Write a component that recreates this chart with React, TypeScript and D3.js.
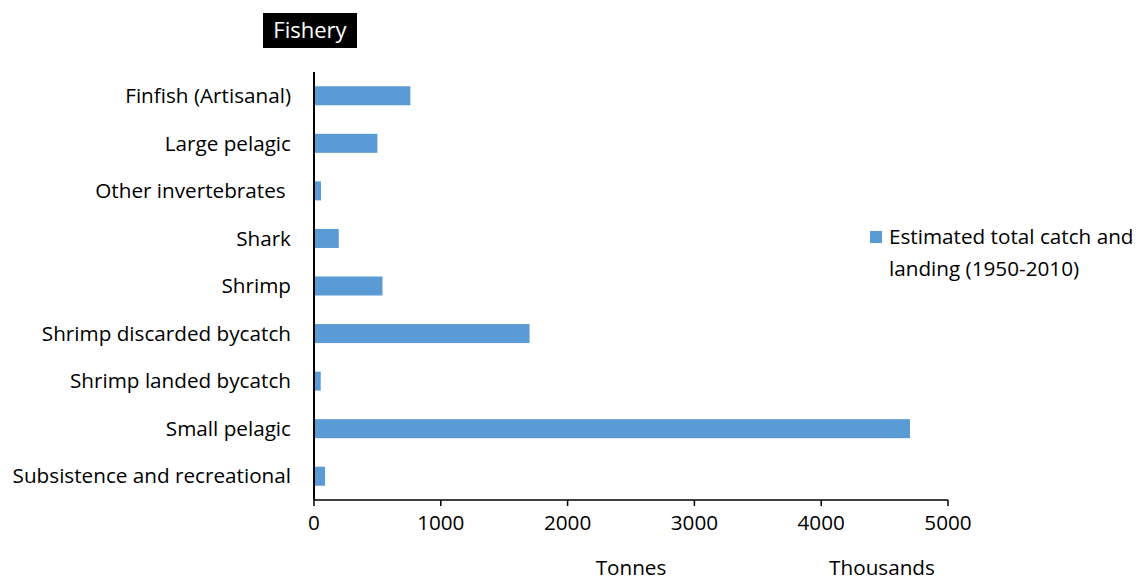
import React from "react";
import * as d3 from "d3";

const categories = [
  "Finfish (Artisanal)",
  "Large pelagic",
  "Other invertebrates ",
  "Shark",
  "Shrimp",
  "Shrimp discarded bycatch",
  "Shrimp landed bycatch",
  "Small pelagic",
  "Subsistence and recreational",
];
// Estimated total catch and landing 1950-2010, thousand tonnes
const catchValues = [760, 500, 55, 195, 540, 1700, 53, 4700, 87];
const xTicks = [0, 1000, 2000, 3000, 4000, 5000];
const seriesName = ["Estimated total catch and", "landing (1950-2010)"];

const W = 1139;
const H = 581;
const FONT = "'Open Sans', sans-serif";
const BAR = "#5B9BD5";
const FS = 20.7;

export default function App() {
  const x = d3.scaleLinear().domain([0, 5000]).range([314, 948]);
  const y = d3.scaleBand<string>().domain(categories).range([72, 500]).paddingInner(0.6).paddingOuter(0.3);
  const axisY = 500;

  return (
    <svg width={W} height={H} style={{ position: "absolute", left: 0, top: 0, background: "#fff" }} fontFamily={FONT}>
      {/* title box */}
      <rect x={263} y={13} width={94} height={35} fill="#000" />
      <text x={310} y={38} textAnchor="middle" fill="#fff" fontSize={22}>Fishery</text>

      {/* bars */}
      {categories.map((c, i) => (
        <rect key={c} x={x(0)} y={y(c)!} width={x(catchValues[i]) - x(0)} height={y.bandwidth()} fill={BAR} />
      ))}

      {/* category labels */}
      {categories.map((c) => (
        <text key={c} x={291} y={y(c)! + y.bandwidth() / 2} dy="0.35em" textAnchor="end" fontSize={FS} fill="#000" style={{ whiteSpace: "pre" }}>
          {c}
        </text>
      ))}

      {/* axes */}
      <line x1={x(0)} x2={x(0)} y1={72} y2={axisY} stroke="#000" strokeWidth={2} />
      <line x1={x(0)} x2={x(5000)} y1={axisY} y2={axisY} stroke="#000" strokeWidth={1.5} />
      {xTicks.map((t) => (
        <g key={t}>
          <line x1={x(t)} x2={x(t)} y1={axisY} y2={axisY + 6} stroke="#000" strokeWidth={1.5} />
          <text x={x(t)} y={530} textAnchor="middle" fontSize={FS} fill="#000">{t}</text>
        </g>
      ))}
      <text x={631} y={575} textAnchor="middle" fontSize={FS} fill="#000">Tonnes</text>
      <text x={882} y={575} textAnchor="middle" fontSize={FS} fill="#000">Thousands</text>

      {/* legend */}
      <rect x={870} y={231} width={12} height={12} fill={BAR} />
      <text x={889} y={244} fontSize={FS} fill="#000">{seriesName[0]}</text>
      <text x={889} y={276} fontSize={FS} fill="#000">{seriesName[1]}</text>
    </svg>
  );
}
